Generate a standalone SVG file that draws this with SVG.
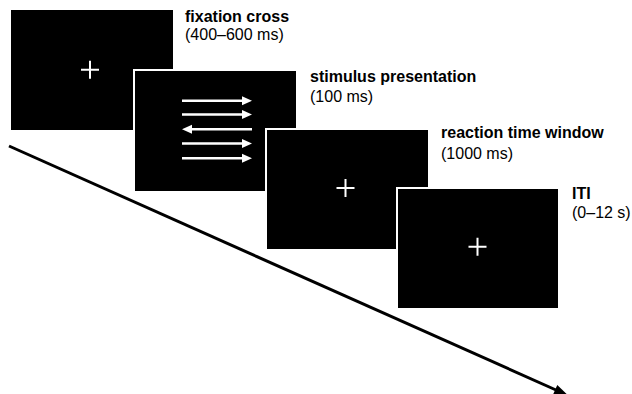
<svg xmlns="http://www.w3.org/2000/svg" width="632" height="394" viewBox="0 0 632 394">
<style>
.screen{fill:#000;stroke:#fff;stroke-width:2}
.cross{stroke:#fff;stroke-width:2;fill:none}
.arw{stroke:#fff;stroke-width:2.5;fill:none}
.head{fill:#fff}
.t{font-family:"Liberation Sans",Arial,sans-serif;font-size:16px;fill:#000}
.b{font-weight:bold}
</style>
<rect width="632" height="394" fill="#fff"/>
<g id="connectors">
<line x1="9" y1="146" x2="556" y2="390" stroke="#000" stroke-width="3"/>
<polygon points="568,395.3 553.2,394.2 557.3,385.1" fill="#000"/>
</g>
<g id="fixation">
<rect class="screen" x="10" y="9" width="164" height="122"/>
<path class="cross" d="M81,69.7H99M90,60.7V78.7"/>
<text class="t b" x="185" y="22">fixation cross</text>
<text class="t" x="185" y="40">(400–600 ms)</text>
</g>
<g id="stimulus">
<rect class="screen" x="134" y="70" width="163" height="122"/>
<path class="arw" d="M182,100.7H244M182,114.5H244M190,129.3H252M182,143.5H244M182,158.3H244"/>
<polygon class="head" points="252,100.7 242,96.2 242,105.2"/>
<polygon class="head" points="252,114.5 242,110 242,119"/>
<polygon class="head" points="182,129.3 192,124.8 192,133.8"/>
<polygon class="head" points="252,143.5 242,139 242,148"/>
<polygon class="head" points="252,158.3 242,153.8 242,162.8"/>
<text class="t b" x="310" y="82">stimulus presentation</text>
<text class="t" x="310" y="102">(100 ms)</text>
</g>
<g id="reaction">
<rect class="screen" x="266" y="129" width="163" height="121"/>
<path class="cross" d="M336.5,188H354.5M345.5,179V197"/>
<text class="t b" x="441" y="137.5">reaction time window</text>
<text class="t" x="441" y="159">(1000 ms)</text>
</g>
<g id="iti">
<rect class="screen" x="397" y="188" width="162" height="121"/>
<path class="cross" d="M468.5,246.7H486.5M477.5,237.7V255.7"/>
<text class="t b" x="572" y="198.5">ITI</text>
<text class="t" x="572" y="218">(0–12 s)</text>
</g>
</svg>
